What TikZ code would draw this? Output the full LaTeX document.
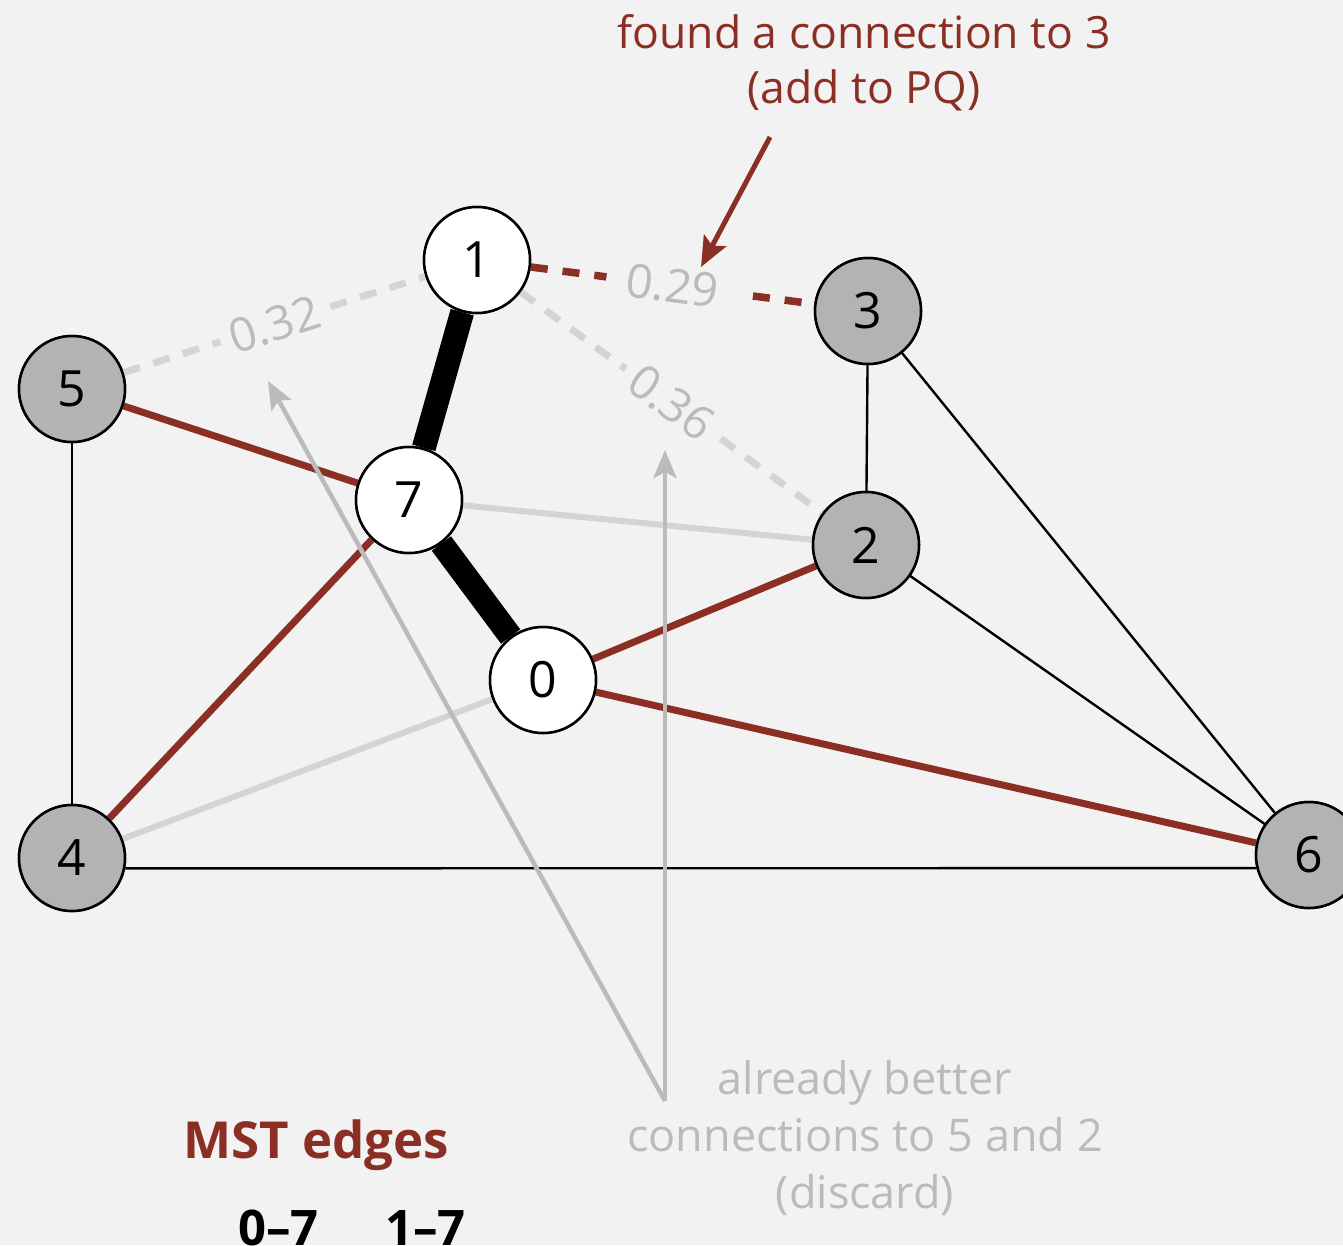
\documentclass[tikz,border=0pt]{standalone}
\usepackage{fontspec}
\setmainfont{Open Sans}
\usetikzlibrary{arrows.meta}
\definecolor{bg}{HTML}{F2F2F2}
\definecolor{mred}{HTML}{8B2E23}
\definecolor{ngray}{HTML}{B3B3B3}
\definecolor{lgray}{HTML}{D4D4D4}
\definecolor{tgray}{HTML}{BBBBBB}
\begin{document}
\begin{tikzpicture}[x=1pt,y=-1pt,
  vtx/.style={circle,draw=black,line width=2.5pt,minimum size=106pt,inner sep=0pt,font=\fontsize{50}{50}\selectfont},
  gv/.style={vtx,fill=ngray},
  wv/.style={vtx,fill=white},
  blk/.style={line width=2.4pt,black},
  mst/.style={line width=24pt,black},
  redge/.style={line width=7pt,mred},
  gedge/.style={line width=6pt,lgray},
  rdash/.style={line width=7.5pt,mred,dash pattern=on 17pt off 15pt},
  gdash/.style={line width=7pt,lgray,dash pattern=on 17pt off 14pt},
  wlabel/.style={sloped,fill=bg,text=tgray,font=\fontsize{47}{47}\selectfont,inner xsep=10pt,inner ysep=2pt},
  garrow/.style={line width=4.5pt,tgray,-{Stealth[length=28pt,width=23pt,inset=6pt]}},
  rarrow/.style={line width=5pt,mred,-{Stealth[length=30pt,width=25pt,inset=6pt]}}
]
\useasboundingbox (0,0) rectangle (1343,1245);
\clip (0,0) rectangle (1343,1245);
\fill[bg] (0,0) rectangle (1343,1245);

% vertices
\node[wv] (v1) at (477,260) {1};
\node[gv] (v3) at (868,311) {3};
\node[gv] (v5) at (72,389) {5};
\node[wv] (v7) at (409,500) {7};
\node[gv] (v2) at (866,545) {2};
\node[wv] (v0) at (543,680) {0};
\node[gv] (v4) at (72,858) {4};
\node[gv] (v6) at (1309,855) {6};

% edges
\draw[blk] (v5) -- (v4);
\draw[blk] (v3) -- (v2);
\draw[blk] (v3) -- (v6);
\draw[blk] (v2) -- (v6);
\draw[blk] (v4.-11) -- (v6.194);
\draw[gedge] (v7) -- (v2);
\draw[gedge] (v0) -- (v4);
\draw[redge] (v5) -- (v7);
\draw[redge] (v4) -- (v7);
\draw[redge] (v0) -- (v2);
\draw[redge] (v0) -- (v6);
\draw[gdash] (v5) -- node[wlabel] (l32) {0.32} (v1);
\draw[gdash] (v1) -- node[wlabel] (l36) {0.36} (v2);
\draw[rdash] (v1) -- node[wlabel,inner xsep=20pt] (l29) {0.29} (v3);
\draw[mst] (v1) -- (v7);
\draw[mst] (v7) -- (v0);

% redraw vertices on top of edges
\node[wv] at (v1) {1};
\node[gv] at (v3) {3};
\node[gv] at (v5) {5};
\node[wv] at (v7) {7};
\node[gv] at (v2) {2};
\node[wv] at (v0) {0};
\node[gv] at (v4) {4};
\node[gv] at (v6) {6};

% annotations
\node[text=mred,align=center,font=\fontsize{44.5}{55}\selectfont] (found) at (864,63) {found a connection to 3\\(add to PQ)};
\node[text=tgray,align=center,font=\fontsize{45}{57}\selectfont] (disc) at (865,1138) {already better\\connections to 5 and 2\\(discard)};
\node[text=mred,anchor=base west,inner sep=0pt,font=\bfseries\fontsize{51}{51}\selectfont] (msthead) at (183,1158) {MST edges};
\node[anchor=base west,inner sep=0pt,font=\bfseries\fontsize{49}{49}\selectfont] (e07) at (238,1245) {0–7};
\node[anchor=base west,inner sep=0pt,font=\bfseries\fontsize{49}{49}\selectfont] (e17) at (385,1245) {1–7};

\coordinate (rs) at (770,137);
\coordinate (re) at (701,267);
\draw[rarrow] (rs) -- (re);
\coordinate (gs) at (665,1101);
\coordinate (ge1) at (268,381);
\coordinate (ge2) at (665,450);
\draw[garrow] (gs) -- (ge1);
\draw[garrow] (gs) -- (ge2);
\end{tikzpicture}
\end{document}
